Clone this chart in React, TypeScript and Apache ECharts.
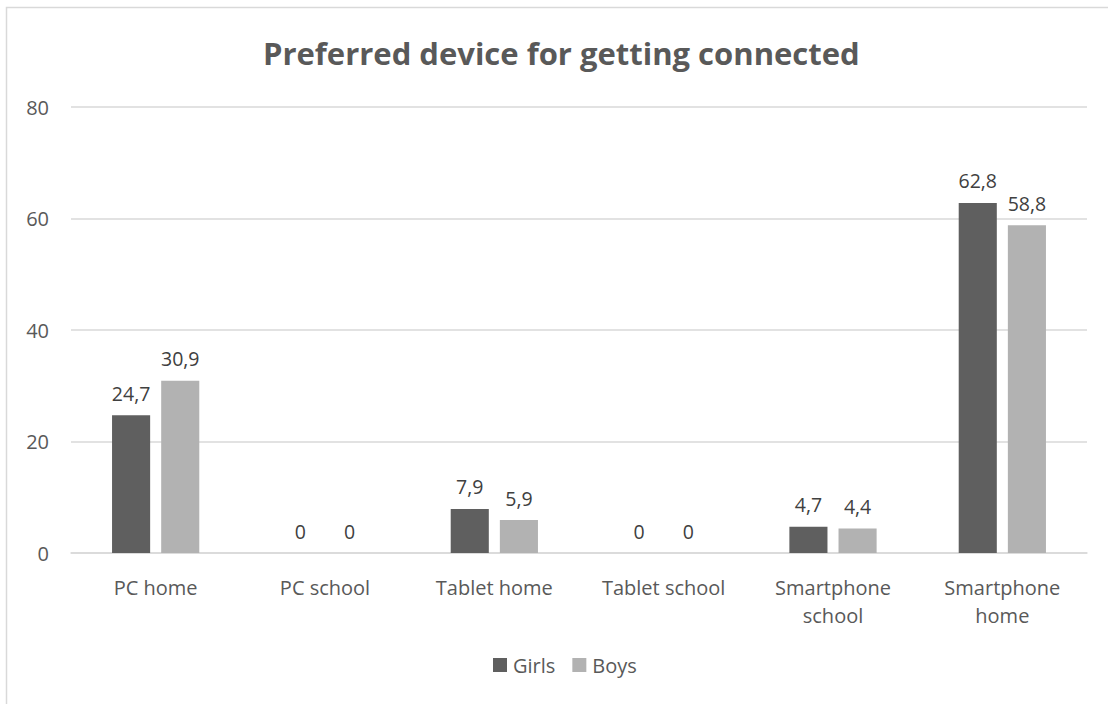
import React, { useEffect, useRef } from "react";
import * as echarts from "echarts";

const categories = [
  "PC home",
  "PC school",
  "Tablet home",
  "Tablet school",
  "Smartphone\nschool",
  "Smartphone\nhome",
];
const girls = [24.7, 0, 7.9, 0, 4.7, 62.8];
const boys = [30.9, 0, 5.9, 0, 4.4, 58.8];
const seriesNames = ["Girls", "Boys"];
const titleText = "Preferred device for getting connected";

const FONT = "'Open Sans', 'Noto Sans', sans-serif";
const TEXT = "#595959";

// Decimal comma for the value labels
const fmt = (p: any) => String(p.value).replace(".", ",");

export default function App() {
  const ref = useRef<HTMLDivElement>(null);

  useEffect(() => {
    document.body.style.margin = "0";
    const chart = echarts.init(ref.current!, undefined, { renderer: "svg" });
    const label = {
      show: true,
      position: "top" as const,
      distance: 12,
      color: "#404040",
      fontSize: 19.5,
      fontFamily: FONT,
      formatter: fmt,
    };
    chart.setOption({
      animation: false,
      backgroundColor: "#ffffff",
      title: {
        text: titleText,
        left: 258,
        top: 32,
        textStyle: { color: TEXT, fontSize: 31, fontWeight: "bold", fontFamily: FONT },
      },
      graphic: [
        {
          type: "rect",
          shape: { x: 6.5, y: 7.5, width: 1300, height: 1000 },
          style: { fill: "none", stroke: "#d9d9d9", lineWidth: 1.5 },
          silent: true,
        },
      ],
      legend: {
        bottom: 24,
        left: 488,
        itemWidth: 14,
        itemHeight: 14,
        itemGap: 17,
        icon: "rect",
        textStyle: { color: TEXT, fontSize: 20, fontFamily: FONT, padding: [0, 0, 0, 1] },
        data: seriesNames,
      },
      grid: { left: 71, right: 21, top: 107, bottom: 151 },
      xAxis: {
        type: "category",
        data: categories,
        axisLine: { lineStyle: { color: "#d9d9d9", width: 1.5 } },
        axisTick: { show: false },
        axisLabel: {
          color: TEXT,
          fontSize: 20,
          fontFamily: FONT,
          margin: 20,
          lineHeight: 28,
          interval: 0,
        },
      },
      yAxis: {
        type: "value",
        min: 0,
        max: 80,
        interval: 20,
        axisLine: { show: false },
        axisTick: { show: false },
        splitLine: { lineStyle: { color: "#d9d9d9", width: 1.5 } },
        axisLabel: { color: TEXT, fontSize: 20, fontFamily: FONT, margin: 22 },
      },
      series: [
        {
          name: seriesNames[0],
          type: "bar",
          data: girls,
          barWidth: "22.5%",
          barGap: "29%",
          itemStyle: { color: "#5f5f5f" },
          label,
        },
        {
          name: seriesNames[1],
          type: "bar",
          data: boys,
          barWidth: "22.5%",
          itemStyle: { color: "#b2b2b2" },
          label,
        },
      ],
    });
    return () => chart.dispose();
  }, []);

  return <div ref={ref} style={{ width: 1108, height: 704 }} />;
}
